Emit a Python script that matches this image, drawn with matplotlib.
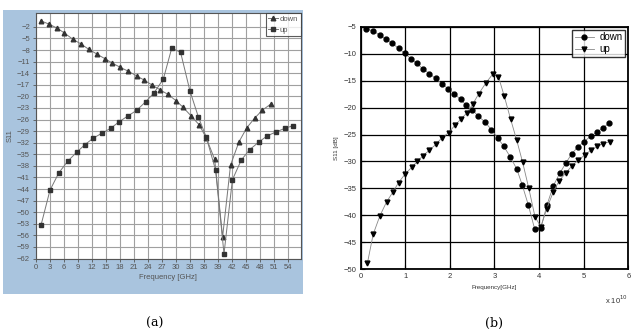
import matplotlib
matplotlib.use("Agg")
import matplotlib.pyplot as plt
from matplotlib.patches import Rectangle

# ---------------- data (a) ----------------
a_down_x = [1.0, 2.8, 4.5, 6.1, 7.9, 9.6, 11.3, 13.0, 14.7, 16.4, 18.1, 19.8, 21.6, 23.2, 24.8,
            26.6, 28.3, 30.0, 31.5, 33.2, 35.0, 36.5, 38.3, 40.0, 41.7, 43.5, 45.2, 46.9, 48.5, 50.3]
a_down_y = [-0.4, -1.3, -2.3, -3.6, -5.2, -6.4, -7.8, -9.0, -10.2, -11.4, -12.5, -13.5, -14.7, -15.8, -17.0,
            -18.3, -19.5, -21.1, -22.8, -25.0, -27.4, -30.8, -36.3, -56.4, -37.8, -31.8, -28.1, -25.6, -23.6, -22.0]
a_up_x = [1.07, 3.0, 4.9, 6.8, 8.7, 10.5, 12.3, 14.2, 16.1, 17.8, 19.8, 21.6, 23.5, 25.3, 27.3,
          29.1, 31.0, 33.0, 34.8, 36.5, 38.5, 40.3, 42.1, 44.0, 45.8, 47.8, 49.6, 51.5, 53.3, 55.1]
a_up_y = [-53.4, -44.3, -39.8, -36.8, -34.5, -32.5, -30.8, -29.5, -28.2, -26.6, -25.0, -23.6, -21.4, -19.1, -15.5,
          -7.5, -8.6, -18.6, -25.3, -30.6, -39.1, -60.8, -41.6, -36.5, -33.8, -31.8, -30.2, -29.2, -28.3, -27.6]
a_xticks = list(range(0, 55, 3))
a_yticks = list(range(-62, 0, 3))

# ---------------- data (b) (x in units of 1e10 Hz) ----------------
b_down_x = [0.13, 0.28, 0.43, 0.57, 0.71, 0.85, 0.99, 1.13, 1.26, 1.39, 1.54, 1.68, 1.82, 1.96, 2.10,
            2.24, 2.36, 2.50, 2.64, 2.79, 2.93, 3.07, 3.21, 3.35, 3.50, 3.62, 3.76, 3.90, 4.04, 4.18,
            4.32, 4.47, 4.60, 4.73, 4.87, 5.01, 5.16, 5.31, 5.44, 5.57]
b_down_y = [-5.4, -5.8, -6.55, -7.36, -8.1, -9.0, -9.96, -10.96, -11.8, -12.8, -13.7, -14.6, -15.6, -16.5, -17.4,
            -18.5, -19.5, -20.4, -21.6, -22.7, -24.1, -25.6, -27.2, -29.1, -31.4, -34.3, -38.1, -42.5, -42.3, -38.0,
            -34.5, -32.1, -30.3, -28.6, -27.3, -26.3, -25.3, -24.5, -23.7, -22.9]
b_up_x = [0.15, 0.28, 0.43, 0.58, 0.72, 0.85, 0.99, 1.14, 1.27, 1.40, 1.54, 1.69, 1.82, 1.97, 2.11,
          2.24, 2.38, 2.51, 2.65, 2.81, 2.96, 3.09, 3.22, 3.36, 3.50, 3.63, 3.77, 3.91, 4.04, 4.17,
          4.32, 4.45, 4.60, 4.74, 4.88, 5.03, 5.16, 5.30, 5.44, 5.59]
b_up_y = [-48.9, -43.5, -40.1, -37.5, -35.7, -33.9, -32.4, -31.1, -30.0, -28.9, -27.9, -26.8, -25.6, -24.7, -23.3,
          -22.2, -21.0, -19.4, -17.4, -15.4, -13.8, -14.3, -17.9, -22.1, -26.1, -30.1, -35.0, -40.3, -42.1, -38.8,
          -35.6, -33.6, -32.1, -30.8, -29.7, -28.8, -27.9, -27.2, -26.7, -26.3]
b_xticks = [0, 1, 2, 3, 4, 5, 6]
b_yticks = [-50, -45, -40, -35, -30, -25, -20, -15, -10, -5]

plt.rcParams['font.family'] = ['Liberation Sans', 'DejaVu Sans']

fig = plt.figure(figsize=(6.32, 3.34), dpi=100)

# blue panel behind (a)
fig.patches.append(Rectangle((0.0048, 0.1198), 0.4742, 0.8502, transform=fig.transFigure,
                             facecolor='#a9c4de', edgecolor='none', zorder=-5))

# ---------------- (a) ----------------
axa = fig.add_axes([0.0562, 0.226, 0.4193, 0.734])
axa.set_zorder(2)
axa.set_facecolor('white')
axa.plot(a_down_x, a_down_y, color='#777777', lw=0.7, marker='^', ms=3.3,
         mfc='#333333', mec='#333333', label='down')
axa.plot(a_up_x, a_up_y, color='#777777', lw=0.7, marker='s', ms=3.3,
         mfc='#333333', mec='#333333', label='up')
axa.set_xlim(-0.1, 56.7)
axa.set_ylim(-62, 1.5)
axa.set_xticks(a_xticks)
axa.set_yticks(a_yticks)
axa.grid(True, color='#a0a0a0', lw=0.8)
axa.set_axisbelow(True)
axa.tick_params(labelsize=5.5, labelcolor='#555555', length=2, width=0.6, color='#555555', pad=2)
for s in axa.spines.values():
    s.set_color('#555555')
    s.set_linewidth(0.8)
axa.set_xlabel('Frequency [GHz]', fontsize=5.5, color='#555555', labelpad=2)
axa.set_ylabel('S11', fontsize=5.5, color='#555555', labelpad=2)
leg = axa.legend(loc='upper right', fontsize=5.5, frameon=True, fancybox=False,
                 borderpad=0.3, handlelength=1.2, handletextpad=0.3, labelspacing=0.5,
                 borderaxespad=0.0)
leg.get_frame().set_edgecolor('#333333')
leg.get_frame().set_linewidth(0.8)
for t in leg.get_texts():
    t.set_color('#555555')

# ---------------- (b) ----------------
axb = fig.add_axes([0.5707, 0.1937, 0.4234, 0.7263])
axb.plot(b_down_x, b_down_y, color='#888888', lw=0.6, marker='o', ms=3.5,
         mfc='black', mec='black', label='down')
axb.plot(b_up_x, b_up_y, color='#888888', lw=0.6, marker='v', ms=3.5,
         mfc='black', mec='black', label='up')
axb.set_xlim(0, 6)
axb.set_ylim(-50, -5)
axb.set_xticks(b_xticks)
axb.set_yticks(b_yticks)
axb.grid(True, color='black', lw=0.9)
axb.set_axisbelow(True)
axb.tick_params(labelsize=5.5, labelcolor='#333333', direction='in', length=3, width=0.8, pad=3)
for s in axb.spines.values():
    s.set_color('black')
    s.set_linewidth(1.3)
axb.set_xlabel('Frequency[GHz]', fontsize=4.5, color='#333333', labelpad=3)
axb.set_ylabel('S11 [dB]', fontsize=4.5, color='#333333', labelpad=3)
axb.text(1.0, -0.1, r'x 10$^{10}$', transform=axb.transAxes, ha='right', va='top',
         fontsize=5.5, color='#333333')
legb = axb.legend(loc='upper right', fontsize=7, frameon=True, fancybox=False,
                  borderpad=0.25, handlelength=2.0, handletextpad=0.6, labelspacing=0.25,
                  borderaxespad=0.3)
legb.get_frame().set_edgecolor('black')
legb.get_frame().set_linewidth(1.0)

# captions
fig.text(155 / 632, 1 - 323 / 334, '(a)', ha='center', va='center', fontsize=9,
         family=['DejaVu Serif'])
fig.text(494 / 632, 1 - 323 / 334, '(b)', ha='center', va='center', fontsize=9,
         family=['DejaVu Serif'])

fig.savefig('out.png', dpi=100)
